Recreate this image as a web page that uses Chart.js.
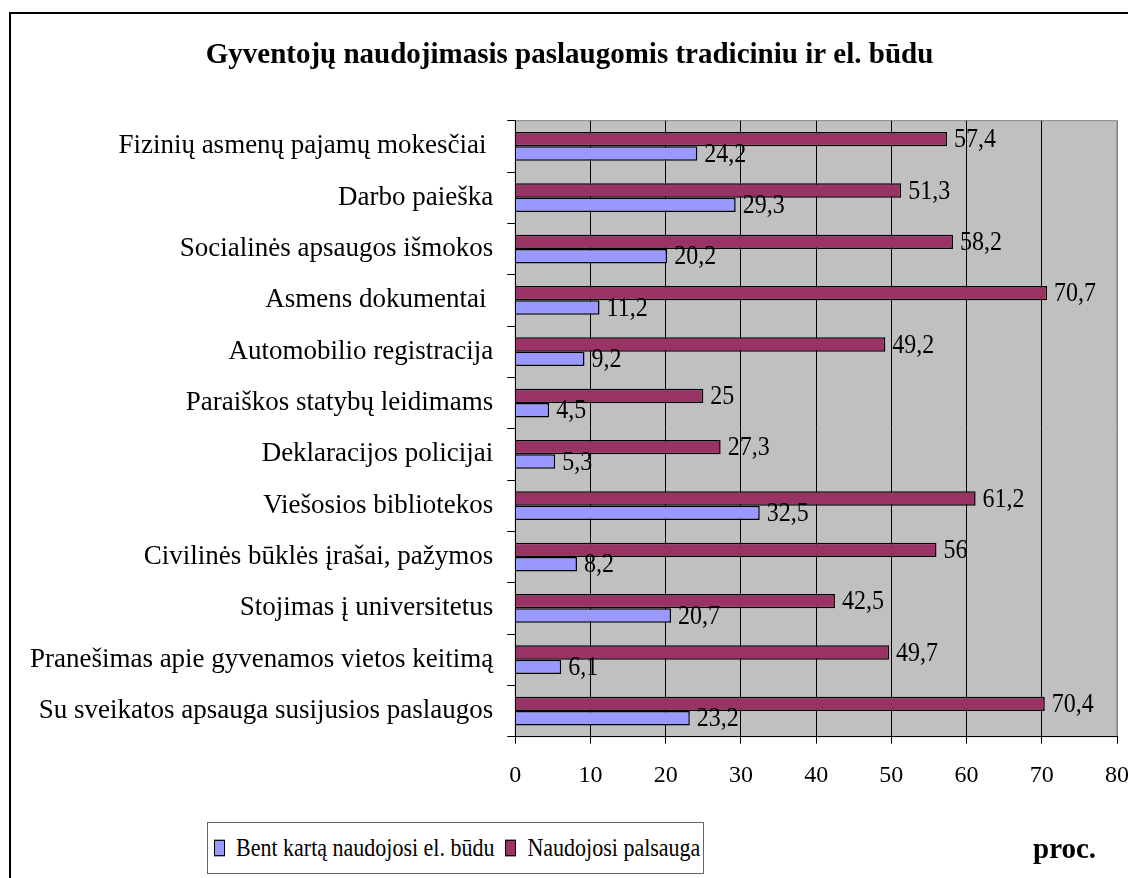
<!DOCTYPE html>
<html>
<head>
<meta charset="utf-8">
<script src="https://cdn.jsdelivr.net/npm/chart.js@4/dist/chart.umd.min.js"></script>
<style>
  body { margin: 0; background: #fff; }
  #wrap { position: relative; width: 1128px; height: 878px; overflow: hidden; }
  #frame { position: absolute; left: 9px; top: 12px; width: 1140px; height: 900px; border: 2px solid #000; }
  #chart { position: absolute; left: 0; top: 0; }
  #legend {
    position: absolute; left: 207px; top: 822px; width: 497px; height: 52px;
    border: 1px solid #666; background: #fff;
    font: 22px "Liberation Serif", serif; color: #000;
    display: flex; align-items: center; padding-left: 6px; box-sizing: border-box;
  }
  #legend .box { display: inline-block; width: 9px; height: 12px; border: 1px solid #000; margin-right: 11px; }
  #legend .item { display: flex; align-items: center; margin-right: 11px; white-space: nowrap; transform: scaleY(1.18); }
  #unit { position: absolute; left: 1033px; top: 832px; line-height: 1; font: bold 29px "Liberation Serif", serif; color: #000; }
</style>
</head>
<body>
<div id="wrap">
  <div id="frame"></div>
  <canvas id="chart" width="1128" height="878"></canvas>
  <div id="legend"></div>
  <div id="unit">proc.</div>
</div>
<script>
const categories = [
  "Fizinių asmenų pajamų mokesčiai ",
  "Darbo paieška",
  "Socialinės apsaugos išmokos",
  "Asmens dokumentai ",
  "Automobilio registracija",
  "Paraiškos statybų leidimams",
  "Deklaracijos policijai",
  "Viešosios bibliotekos",
  "Civilinės būklės įrašai, pažymos",
  "Stojimas į universitetus",
  "Pranešimas apie gyvenamos vietos keitimą",
  "Su sveikatos apsauga susijusios paslaugos"
];
const usedService = [57.4, 51.3, 58.2, 70.7, 49.2, 25, 27.3, 61.2, 56, 42.5, 49.7, 70.4];
const usedOnline = [24.2, 29.3, 20.2, 11.2, 9.2, 4.5, 5.3, 32.5, 8.2, 20.7, 6.1, 23.2];
const xTicks = [0, 10, 20, 30, 40, 50, 60, 70, 80];

const serif = "'Liberation Serif', 'Times New Roman', serif";

// grey plot background + grey frame round the plot
const plotBg = {
  id: "plotBg",
  beforeDraw(chart) {
    const { ctx, chartArea: a } = chart;
    ctx.save();
    ctx.fillStyle = "#c0c0c0";
    ctx.fillRect(a.left, a.top, a.right - a.left, a.bottom - a.top);
    ctx.strokeStyle = "#808080";
    ctx.lineWidth = 1;
    ctx.strokeRect(a.left, a.top, a.right - a.left, a.bottom - a.top);
    ctx.restore();
  }
};

// value labels right of each bar (slightly tall, like the source)
const valueLabels = {
  id: "valueLabels",
  afterDatasetsDraw(chart) {
    const ctx = chart.ctx;
    ctx.font = "24px " + serif;
    ctx.fillStyle = "#000";
    ctx.textAlign = "left";
    ctx.textBaseline = "middle";
    chart.data.datasets.forEach((ds, i) => {
      chart.getDatasetMeta(i).data.forEach((bar, j) => {
        ctx.save();
        ctx.translate(bar.x + 7, bar.y + 1);
        ctx.scale(1, 1.12);
        ctx.fillText(String(ds.data[j]).replace(".", ","), 0, 0);
        ctx.restore();
      });
    });
  }
};

const chart = new Chart(document.getElementById("chart"), {
  type: "bar",
  data: {
    labels: categories,
    datasets: [
      { label: "Naudojosi palsauga", data: usedService, backgroundColor: "#993366", borderColor: "#000", borderWidth: 1.5 },
      { label: "Bent kartą naudojosi el. būdu", data: usedOnline, backgroundColor: "#9999ff", borderColor: "#000", borderWidth: 1.5 }
    ]
  },
  options: {
    indexAxis: "y",
    responsive: false,
    animation: false,
    categoryPercentage: 0.56,
    barPercentage: 1,
    layout: { padding: { left: 22, right: 11, top: 0, bottom: 0 } },
    plugins: {
      legend: { display: false },
      tooltip: { enabled: false },
      title: {
        display: true,
        text: "Gyventojų naudojimasis paslaugomis tradiciniu ir el. būdu",
        color: "#000",
        font: { family: serif, size: 29, weight: "bold" },
        padding: { top: 38, bottom: 47.9 }
      }
    },
    scales: {
      x: {
        min: 0,
        max: 80,
        afterBuildTicks: (s) => { s.ticks = xTicks.map(v => ({ value: v })); },
        afterFit: (s) => { s.height = 141.3; s.paddingRight = 0; s.paddingLeft = 0; },
        grid: {
          color: (c) => (c.tick && c.tick.value === 80 ? "#808080" : "#000"),
          tickColor: "#000",
          tickLength: 7
        },
        border: { color: "#000" },
        ticks: { color: "#000", font: { family: serif, size: 24 }, padding: 18 }
      },
      y: {
        afterFit: (s) => { s.width = 493.3; },
        grid: { offset: true, drawOnChartArea: false, color: "#000", tickLength: 8 },
        border: { color: "#000" },
        ticks: { color: "#000", font: { family: serif, size: 27 }, padding: 14, autoSkip: false }
      }
    }
  },
  plugins: [plotBg, valueLabels]
});

// legend built from the datasets, online series first as in the source
const legend = document.getElementById("legend");
chart.data.datasets.slice().reverse().forEach(ds => {
  const item = document.createElement("span");
  item.className = "item";
  const box = document.createElement("span");
  box.className = "box";
  box.style.background = ds.backgroundColor;
  item.appendChild(box);
  item.appendChild(document.createTextNode(ds.label));
  legend.appendChild(item);
});
</script>
</body>
</html>
